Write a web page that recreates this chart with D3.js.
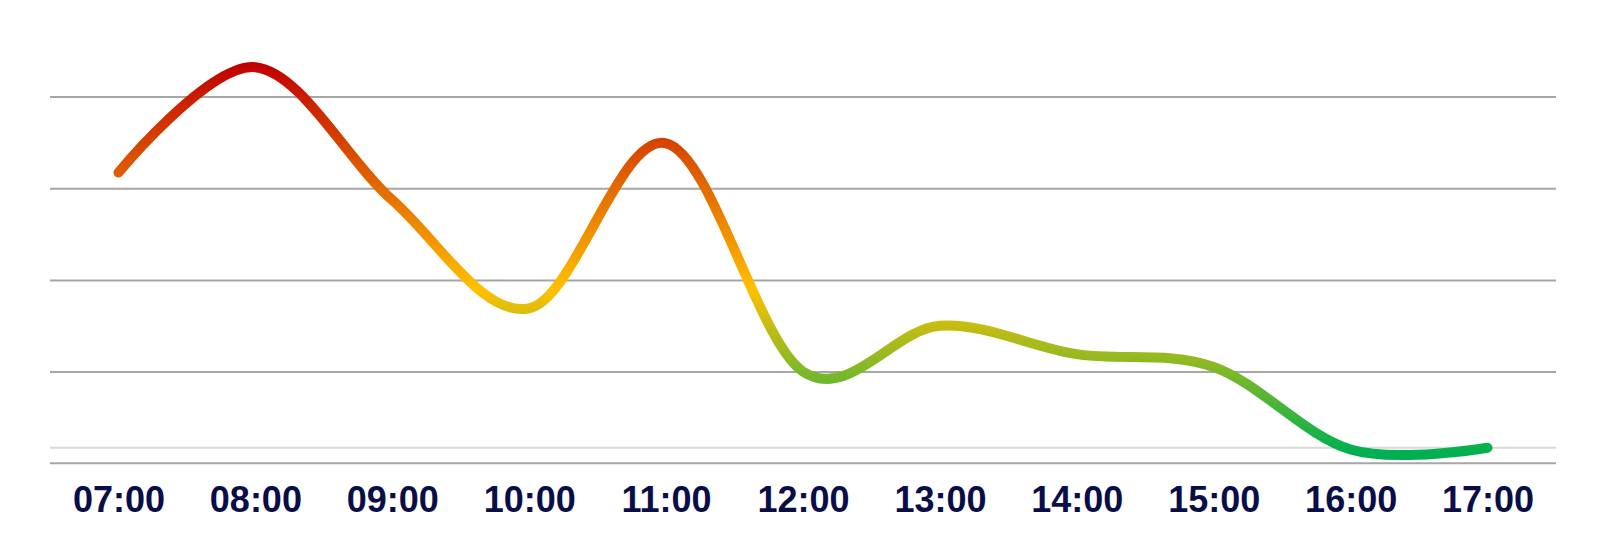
<!DOCTYPE html>
<html>
<head>
<meta charset="utf-8">
<script src="https://cdn.jsdelivr.net/npm/d3@7/dist/d3.min.js"></script>
<style>
  html, body { margin: 0; padding: 0; background: #ffffff; }
  svg { display: block; }
</style>
</head>
<body>
<svg id="chart" width="1607" height="553"></svg>
<script>
// ---- data ----
const categories = ["07:00", "08:00", "09:00", "10:00", "11:00", "12:00", "13:00", "14:00", "15:00", "16:00", "17:00"];
const values = [3.17, 4.32, 2.87, 1.69, 3.49, 1.00, 1.50, 1.19, 1.05, 0.15, 0.17];
const gridValues = [1, 2, 3, 4];
const referenceValue = 0.17;
// gradient colour stops (value on the y axis -> colour)
const gradientValues = [4.36, 1.90, 0.12];
const gradientColors = ["#C00000", "#FFC000", "#00B050"];

(function () {
  // ---- layout ----
  const plotLeft = 50, plotRight = 1556, plotTop = 96.5, plotBottom = 463.3;

  const svg = d3.select("#chart");

  const x = d3.scalePoint().domain(categories).range([plotLeft, plotRight]).padding(0.5);
  const y = d3.scaleLinear().domain([0, 4]).range([plotBottom, plotTop]);

  // gridlines
  const grid = svg.append("g")
    .attr("transform", `translate(${plotLeft},0)`)
    .call(d3.axisLeft(y).tickValues(gridValues).tickSize(-(plotRight - plotLeft)).tickFormat(""));
  grid.select(".domain").remove();
  grid.selectAll("line").attr("stroke", "#A6A6A6").attr("stroke-width", 2);

  // reference light line
  svg.append("line")
    .attr("x1", plotLeft).attr("x2", plotRight)
    .attr("y1", y(referenceValue)).attr("y2", y(referenceValue))
    .attr("stroke", "#D9D9D9").attr("stroke-width", 2);

  // x axis
  const xAxis = svg.append("g")
    .attr("transform", `translate(0,${plotBottom})`)
    .call(d3.axisBottom(x).tickSize(0).tickPadding(23));
  xAxis.select(".domain").remove();
  xAxis.append("line")
    .attr("x1", plotLeft).attr("x2", plotRight).attr("y1", 0).attr("y2", 0)
    .attr("stroke", "#A6A6A6").attr("stroke-width", 2);
  xAxis.selectAll("text")
    .attr("font-family", "'Liberation Sans', Arial, sans-serif")
    .attr("font-weight", "bold")
    .attr("font-size", "36px")
    .attr("fill", "#0A0E48")
    .attr("dy", "0.71em");

  // gradient
  const defs = svg.append("defs");
  const gy0 = y(gradientValues[0]), gy1 = y(gradientValues[gradientValues.length - 1]);
  const grad = defs.append("linearGradient")
    .attr("id", "lineGrad")
    .attr("gradientUnits", "userSpaceOnUse")
    .attr("x1", 0).attr("x2", 0)
    .attr("y1", gy0).attr("y2", gy1);
  gradientValues.forEach((v, i) => {
    grad.append("stop")
      .attr("offset", (y(v) - gy0) / (gy1 - gy0))
      .attr("stop-color", gradientColors[i]);
  });

  // line
  const line = d3.line()
    .x((d, i) => x(categories[i]))
    .y(d => y(d))
    .curve(d3.curveCardinal.tension(0));

  svg.append("path")
    .datum(values)
    .attr("d", line)
    .attr("fill", "none")
    .attr("stroke", "url(#lineGrad)")
    .attr("stroke-width", 10)
    .attr("stroke-linecap", "round")
    .attr("stroke-linejoin", "round");
})();
</script>
</body>
</html>
